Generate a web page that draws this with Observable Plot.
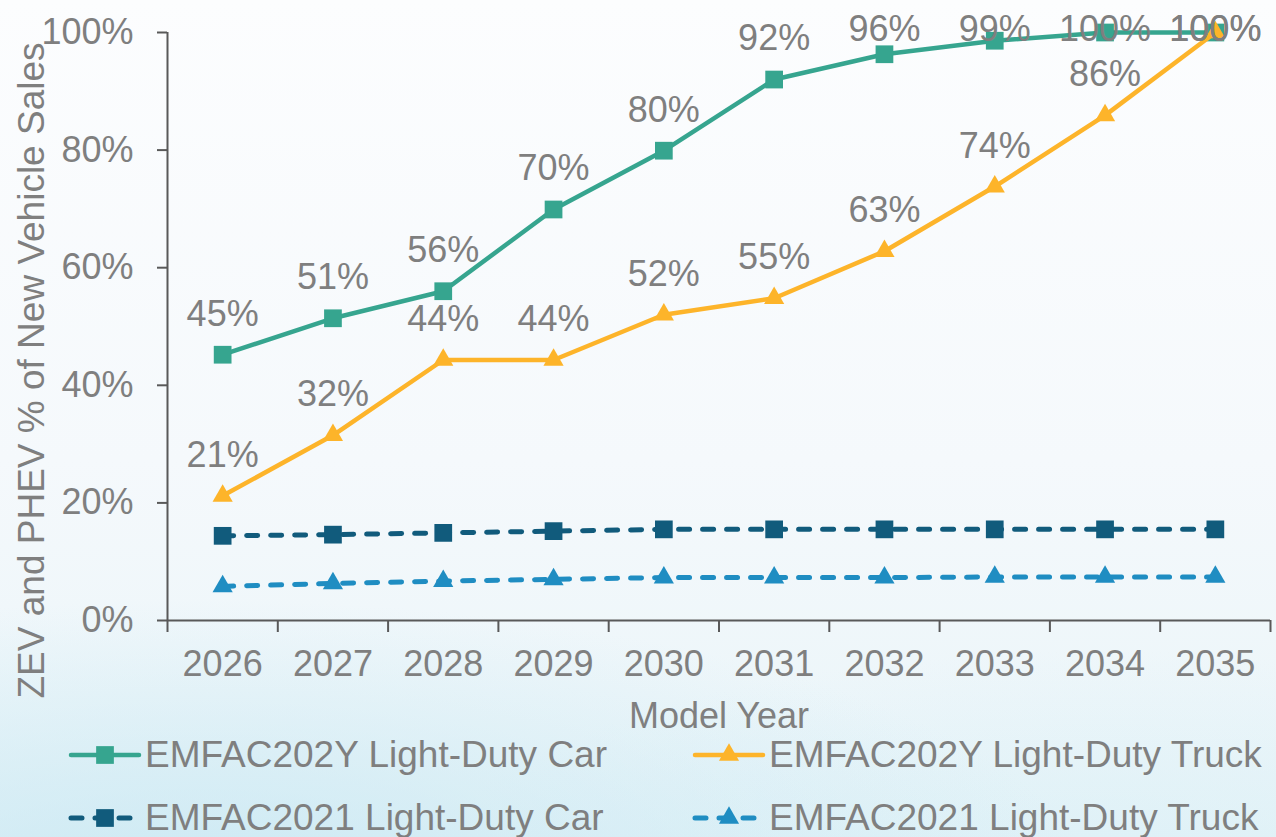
<!DOCTYPE html>
<html>
<head>
<meta charset="utf-8">
<script src="https://cdn.jsdelivr.net/npm/d3@7"></script>
<script src="https://cdn.jsdelivr.net/npm/@observablehq/plot@0.6"></script>
<style>
html, body { margin: 0; padding: 0; width: 1276px; height: 837px; overflow: hidden; }
body {
  font-family: "Liberation Sans", Arial, sans-serif;
  background:
    radial-gradient(ellipse 900px 300px at 200px 900px, rgba(195,230,242,0.8), rgba(195,230,242,0) 100%),
    radial-gradient(ellipse 700px 250px at 1100px 900px, rgba(210,237,246,0.55), rgba(210,237,246,0) 100%),
    linear-gradient(to bottom, #fcfdfe 0%, #f5f9fc 55%, #e8f4f8 100%);
}
#chart svg { display: block; overflow: visible; }
#legend { position: relative; height: 107px; }
.item { position: absolute; display: flex; align-items: center; transform: translateY(-50%); color: #7f7f7f; font-size: 37px; white-space: nowrap; }
.item svg { display: block; margin-right: 3px; }
</style>
</head>
<body>
<div id="chart"></div>
<div id="legend"></div>
<script>
const years = [2026, 2027, 2028, 2029, 2030, 2031, 2032, 2033, 2034, 2035];
const car202Y   = [45.2, 51.4, 56.0, 69.9, 79.9, 92.0, 96.3, 98.6, 100, 100];
const truck202Y = [21.2, 31.5, 44.3, 44.3, 52.0, 54.8, 62.8, 73.8, 85.9, 100];
const car2021   = [14.4, 14.6, 14.9, 15.2, 15.5, 15.5, 15.5, 15.5, 15.5, 15.5];
const truck2021 = [5.8, 6.3, 6.7, 7.0, 7.3, 7.3, 7.3, 7.4, 7.4, 7.4];
const yTicks = [0, 20, 40, 60, 80, 100];
const seriesNames = ["EMFAC202Y Light-Duty Car", "EMFAC202Y Light-Duty Truck", "EMFAC2021 Light-Duty Car", "EMFAC2021 Light-Duty Truck"];
const colors = ["#36a58f", "#fdb42a", "#115b7c", "#1f8dc2"];
const yTitle = "ZEV and PHEV % of New Vehicle Sales";
const xTitle = "Model Year";

const toRows = (vals) => years.map((year, i) => ({year, v: vals[i]}));
const carY = toRows(car202Y), truckY = toRows(truck202Y), car21 = toRows(car2021), truck21 = toRows(truck2021);
const edges = [years[0] - 0.5, ...years.map(y => y + 0.5)];
const grey = "#7f7f7f", axisC = "#595959";
const labelY = d => Math.min(d.v + 6.9, 100.6);
const fmt = d => Math.round(d.v) + "%";
const FS = 36;

const chart = Plot.plot({
  width: 1276,
  height: 730,
  marginLeft: 167,
  marginRight: 6,
  marginTop: 32,
  marginBottom: 110,
  style: {background: "transparent", overflow: "visible", fontFamily: "Liberation Sans, Arial, sans-serif"},
  x: {domain: [edges[0], edges[edges.length - 1]]},
  y: {domain: [0, 100]},
  marks: [
    Plot.axisY({ticks: yTicks, tickSize: 10, tickPadding: 24, tickFormat: d => d + "%", fontSize: FS, stroke: axisC, fill: grey, strokeWidth: 2, label: null}),
    Plot.axisX({ticks: edges, tickSize: 12, tickFormat: () => "", stroke: axisC, strokeWidth: 2, label: null}),
    Plot.axisX({ticks: years, tickSize: 0, tickPadding: 30, tickFormat: d => String(d), fontSize: FS, fill: grey, label: null}),
    Plot.ruleX([edges[0]], {stroke: axisC, strokeWidth: 2}),
    Plot.ruleY([0], {stroke: axisC, strokeWidth: 2}),
    Plot.text([yTitle], {frameAnchor: "left", textAnchor: "middle", rotate: -90, dx: -135, dy: 44, fontSize: 37, fill: grey}),
    Plot.text([xTitle], {frameAnchor: "bottom", dy: 107, fontSize: FS, fill: grey}),
    Plot.lineY(truck21, {x: "year", y: "v", stroke: colors[3], strokeWidth: 5, strokeDasharray: "11 13", strokeLinecap: "round"}),
    Plot.dot(truck21, {x: "year", y: "v", symbol: "triangle", r: 7.5, fill: colors[3]}),
    Plot.lineY(car21, {x: "year", y: "v", stroke: colors[2], strokeWidth: 5, strokeDasharray: "11 13", strokeLinecap: "round"}),
    Plot.dot(car21, {x: "year", y: "v", symbol: "square", r: 10, fill: colors[2]}),
    Plot.lineY(carY, {x: "year", y: "v", stroke: colors[0], strokeWidth: 4.5}),
    Plot.dot(carY, {x: "year", y: "v", symbol: "square", r: 10, fill: colors[0]}),
    Plot.lineY(truckY, {x: "year", y: "v", stroke: colors[1], strokeWidth: 4.5}),
    Plot.dot(truckY, {x: "year", y: "v", symbol: "triangle", r: 7.5, fill: colors[1]}),
    Plot.text(carY, {x: "year", y: labelY, text: fmt, fontSize: FS, fill: grey}),
    Plot.text(truckY, {x: "year", y: labelY, text: fmt, fontSize: FS, fill: grey})
  ]
});
document.getElementById("chart").appendChild(chart);

// Legend
const legendPos = [[68, 25], [692, 25], [68, 88], [692, 88]];
const symbols = ["square", "triangle", "square", "triangle"];
const dashed = [false, false, true, true];
const legend = document.getElementById("legend");
seriesNames.forEach((name, i) => {
  const div = document.createElement("div");
  div.className = "item";
  div.style.left = legendPos[i][0] + "px";
  div.style.top = legendPos[i][1] + "px";
  const s = d3.create("svg").attr("width", 74).attr("height", 24);
  s.append("line").attr("x1", 3).attr("x2", 71).attr("y1", 12).attr("y2", 12)
    .attr("stroke", colors[i]).attr("stroke-width", dashed[i] ? 5 : 4.5)
    .attr("stroke-linecap", "round")
    .attr("stroke-dasharray", dashed[i] ? "11 13" : null);
  s.append("path").attr("transform", "translate(37,12)")
    .attr("d", d3.symbol(symbols[i] === "square" ? d3.symbolSquare : d3.symbolTriangle, symbols[i] === "square" ? Math.PI * 100 : Math.PI * 56)())
    .attr("fill", colors[i]);
  div.appendChild(s.node());
  const span = document.createElement("span");
  span.textContent = name;
  div.appendChild(span);
  legend.appendChild(div);
});
</script>
</body>
</html>
